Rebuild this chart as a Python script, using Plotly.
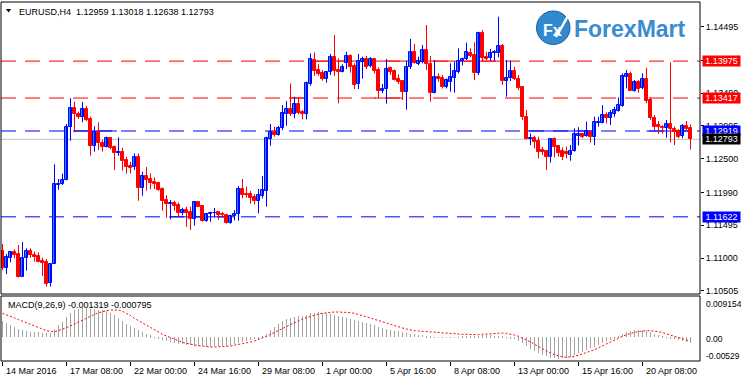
import plotly.graph_objects as go

# ---------------- data ----------------
symbol = "EURUSD,H4"

opens = [
    1.11106, 1.10844, 1.11005, 1.11091, 1.11055, 1.10718, 1.10995, 1.11106, 1.11045, 1.11025,
    1.10955, 1.10944, 1.10627, 1.10914, 1.12103, 1.12113, 1.12173, 1.12974, 1.13262, 1.13176,
    1.13136, 1.13251, 1.13100, 1.12697, 1.12899, 1.12738, 1.12682, 1.12808, 1.12677, 1.12582,
    1.12596, 1.12480, 1.12389, 1.12369, 1.12520, 1.12062, 1.12238, 1.12193, 1.12148, 1.12132,
    1.12042, 1.11875, 1.11815, 1.11830, 1.11800, 1.11684, 1.11724, 1.11694, 1.11583, 1.11840,
    1.11785, 1.11563, 1.11659, 1.11674, 1.11689, 1.11664, 1.11649, 1.11528, 1.11639, 1.11659,
    1.12042, 1.11966, 1.11961, 1.11926, 1.11860, 1.11936, 1.12017, 1.12797, 1.12908, 1.12858,
    1.12958, 1.13175, 1.13246, 1.13175, 1.13321, 1.13205, 1.13175, 1.13628, 1.13991, 1.13840,
    1.13790, 1.13699, 1.13805, 1.14041, 1.13840, 1.13815, 1.13941, 1.14052, 1.13901, 1.13629,
    1.13966, 1.14007, 1.13901, 1.14007, 1.13840, 1.13523, 1.13553, 1.13876, 1.13825, 1.13704,
    1.13674, 1.13513, 1.13881, 1.14112, 1.13931, 1.13966, 1.14143, 1.13936, 1.13498, 1.13740,
    1.13714, 1.13588, 1.13664, 1.13725, 1.13815, 1.13976, 1.14007, 1.14092, 1.14067, 1.13790,
    1.14394, 1.14042, 1.14027, 1.14092, 1.14102, 1.14208, 1.13679, 1.13714, 1.13825, 1.13704,
    1.13583, 1.13125, 1.12798, 1.12818, 1.12767, 1.12631, 1.12616, 1.12531, 1.12798, 1.12692,
    1.12621, 1.12596, 1.12556, 1.12616, 1.12840, 1.12878, 1.12848, 1.12908, 1.12833, 1.13034,
    1.13040, 1.13160, 1.13120, 1.13181, 1.13226, 1.13301, 1.13740, 1.13780, 1.13528, 1.13654,
    1.13563, 1.13699, 1.13387, 1.13120, 1.13009, 1.12984, 1.12959, 1.13019, 1.12949, 1.12913,
    1.12843, 1.12999, 1.12959,
]
highs = [
    1.11211, 1.11060, 1.11096, 1.11131, 1.11196, 1.11242, 1.11146, 1.11146, 1.11096, 1.11086,
    1.11005, 1.10985, 1.10919, 1.12415, 1.12194, 1.12274, 1.13025, 1.13415, 1.13362, 1.13211,
    1.13357, 1.13297, 1.13136, 1.12990, 1.13050, 1.12783, 1.12833, 1.12823, 1.12697, 1.12822,
    1.12666, 1.12530, 1.12455, 1.12581, 1.12581, 1.12304, 1.12374, 1.12278, 1.12218, 1.12153,
    1.12067, 1.11951, 1.11875, 1.11865, 1.11835, 1.11760, 1.11775, 1.11775, 1.11850, 1.11860,
    1.11795, 1.11674, 1.11699, 1.11755, 1.11699, 1.11694, 1.11654, 1.11654, 1.11724, 1.12087,
    1.12193, 1.12077, 1.12011, 1.11966, 1.12042, 1.12238, 1.12832, 1.13024, 1.12984, 1.12994,
    1.13311, 1.13371, 1.13638, 1.13437, 1.13427, 1.13236, 1.13664, 1.14092, 1.14107, 1.13931,
    1.13840, 1.13825, 1.14082, 1.14369, 1.14016, 1.13926, 1.14117, 1.14077, 1.13941, 1.14082,
    1.14042, 1.14052, 1.14037, 1.14017, 1.13881, 1.13629, 1.14007, 1.13891, 1.13850, 1.13775,
    1.13689, 1.13981, 1.14309, 1.14233, 1.14042, 1.14218, 1.14520, 1.14052, 1.13991, 1.13790,
    1.13765, 1.13714, 1.13941, 1.13966, 1.14168, 1.14027, 1.14253, 1.14168, 1.14258, 1.14419,
    1.14445, 1.14117, 1.14158, 1.14142, 1.14646, 1.14233, 1.13991, 1.13981, 1.13891, 1.13765,
    1.13583, 1.13236, 1.12883, 1.12848, 1.12833, 1.12682, 1.12631, 1.12808, 1.12823, 1.12707,
    1.12672, 1.12682, 1.12707, 1.12959, 1.12976, 1.12883, 1.13060, 1.12919, 1.13135, 1.13135,
    1.13311, 1.13200, 1.13236, 1.13286, 1.13427, 1.13790, 1.13840, 1.13815, 1.13689, 1.13689,
    1.13790, 1.13876, 1.13427, 1.13160, 1.13070, 1.13009, 1.13085, 1.13956, 1.12984, 1.12949,
    1.13024, 1.13070, 1.13018,
]
lows = [
    1.10819, 1.10758, 1.10934, 1.10995, 1.10703, 1.10713, 1.10809, 1.11000, 1.10944, 1.10934,
    1.10728, 1.10567, 1.10567, 1.10914, 1.12032, 1.12103, 1.12173, 1.12773, 1.12899, 1.13100,
    1.13050, 1.13070, 1.12546, 1.12607, 1.12632, 1.12607, 1.12672, 1.12642, 1.12330, 1.12545,
    1.12319, 1.12278, 1.12278, 1.12329, 1.11865, 1.11941, 1.12016, 1.12037, 1.12042, 1.12016,
    1.11714, 1.11608, 1.11583, 1.11714, 1.11624, 1.11644, 1.11472, 1.11422, 1.11488, 1.11770,
    1.11548, 1.11548, 1.11548, 1.11613, 1.11578, 1.11613, 1.11518, 1.11518, 1.11568, 1.11563,
    1.11900, 1.11910, 1.11820, 1.11810, 1.11674, 1.11901, 1.11775, 1.12696, 1.12832, 1.12848,
    1.12933, 1.12999, 1.13145, 1.13110, 1.13170, 1.13094, 1.13094, 1.13603, 1.13754, 1.13754,
    1.13679, 1.13649, 1.13765, 1.13749, 1.13336, 1.13805, 1.13855, 1.13800, 1.13553, 1.13553,
    1.13709, 1.13855, 1.13881, 1.13790, 1.13412, 1.13488, 1.13332, 1.13765, 1.13679, 1.13629,
    1.13387, 1.13241, 1.13855, 1.13936, 1.13916, 1.13941, 1.13840, 1.13362, 1.13488, 1.13664,
    1.13563, 1.13563, 1.13513, 1.13498, 1.13790, 1.13911, 1.13991, 1.14032, 1.13689, 1.13765,
    1.13966, 1.13991, 1.13981, 1.13981, 1.14032, 1.13614, 1.13437, 1.13674, 1.13689, 1.13538,
    1.13085, 1.12793, 1.12707, 1.12657, 1.12506, 1.12556, 1.12329, 1.12440, 1.12521, 1.12531,
    1.12480, 1.12506, 1.12470, 1.12606, 1.12700, 1.12808, 1.12833, 1.12747, 1.12707, 1.12984,
    1.13034, 1.13034, 1.13009, 1.13135, 1.13211, 1.13286, 1.13563, 1.13528, 1.13513, 1.13498,
    1.13553, 1.13337, 1.13085, 1.12934, 1.12873, 1.12883, 1.12818, 1.12747, 1.12707, 1.12808,
    1.12808, 1.12934, 1.12638,
]
closes = [
    1.10844, 1.11010, 1.11086, 1.11050, 1.10718, 1.10995, 1.11101, 1.11045, 1.11015, 1.10944,
    1.10929, 1.10612, 1.10904, 1.12113, 1.12123, 1.12173, 1.12979, 1.13262, 1.13171, 1.13136,
    1.13246, 1.13090, 1.12697, 1.12899, 1.12733, 1.12682, 1.12808, 1.12667, 1.12582, 1.12596,
    1.12460, 1.12369, 1.12359, 1.12520, 1.12062, 1.12233, 1.12178, 1.12137, 1.12122, 1.12027,
    1.11865, 1.11815, 1.11835, 1.11790, 1.11684, 1.11724, 1.11684, 1.11583, 1.11840, 1.11775,
    1.11563, 1.11659, 1.11674, 1.11684, 1.11644, 1.11644, 1.11528, 1.11634, 1.11669, 1.12037,
    1.11951, 1.11951, 1.11911, 1.11860, 1.11951, 1.12027, 1.12807, 1.12908, 1.12858, 1.12958,
    1.13185, 1.13246, 1.13175, 1.13321, 1.13195, 1.13175, 1.13638, 1.14006, 1.13830, 1.13780,
    1.13699, 1.13805, 1.14041, 1.13830, 1.13815, 1.13891, 1.14052, 1.13891, 1.13614, 1.13976,
    1.14002, 1.13891, 1.14007, 1.13825, 1.13528, 1.13548, 1.13850, 1.13815, 1.13689, 1.13664,
    1.13513, 1.13881, 1.14112, 1.13951, 1.13981, 1.14143, 1.13926, 1.13498, 1.13730, 1.13704,
    1.13588, 1.13689, 1.13730, 1.13825, 1.13976, 1.14007, 1.14107, 1.14057, 1.13790, 1.14394,
    1.14027, 1.14012, 1.14092, 1.14117, 1.14208, 1.13679, 1.13719, 1.13825, 1.13704, 1.13573,
    1.13125, 1.12798, 1.12818, 1.12747, 1.12606, 1.12596, 1.12531, 1.12798, 1.12682, 1.12591,
    1.12531, 1.12566, 1.12616, 1.12868, 1.12873, 1.12833, 1.12919, 1.12833, 1.13050, 1.13050,
    1.13160, 1.13120, 1.13186, 1.13236, 1.13311, 1.13750, 1.13780, 1.13528, 1.13654, 1.13553,
    1.13699, 1.13377, 1.13110, 1.12984, 1.12984, 1.12969, 1.13019, 1.12944, 1.12898, 1.12833,
    1.12999, 1.12949, 1.12793,
]

macd_main = [
    0.00360, 0.00316, 0.00264, 0.00219, 0.00182, 0.00153, 0.00138, 0.00123, 0.00116, 0.00108,
    0.00093, 0.00086, 0.00101, 0.00190, 0.00264, 0.00345, 0.00456, 0.00545, 0.00604, 0.00627,
    0.00641, 0.00641, 0.00634, 0.00619, 0.00612, 0.00597, 0.00575, 0.00538, 0.00486, 0.00427,
    0.00367, 0.00301, 0.00249, 0.00204, 0.00160, 0.00116, 0.00079, 0.00041, 0.00004, -0.00025,
    -0.00055, -0.00077, -0.00099, -0.00121, -0.00144, -0.00159, -0.00173, -0.00181, -0.00188, -0.00196,
    -0.00203, -0.00210, -0.00210, -0.00203, -0.00196, -0.00196, -0.00188, -0.00173, -0.00159, -0.00136,
    -0.00114, -0.00092, -0.00070, -0.00047, -0.00025, 0.00012, 0.00079, 0.00153, 0.00234, 0.00301,
    0.00353, 0.00397, 0.00427, 0.00449, 0.00464, 0.00478, 0.00501, 0.00530, 0.00545, 0.00553,
    0.00545, 0.00530, 0.00516, 0.00493, 0.00471, 0.00449, 0.00427, 0.00404, 0.00382, 0.00360,
    0.00338, 0.00316, 0.00293, 0.00264, 0.00234, 0.00204, 0.00182, 0.00160, 0.00145, 0.00130,
    0.00108, 0.00093, 0.00079, 0.00071, 0.00056, 0.00049, 0.00034, 0.00019, 0.00004, -0.00003,
    -0.00010, -0.00010, -0.00010, -0.00003, 0.00004, 0.00012, 0.00019, 0.00027, 0.00027, 0.00034,
    0.00041, 0.00041, 0.00041, 0.00034, 0.00027, 0.00012, -0.00003, -0.00025, -0.00047, -0.00077,
    -0.00136, -0.00196, -0.00255, -0.00299, -0.00344, -0.00388, -0.00425, -0.00455, -0.00470, -0.00477,
    -0.00470, -0.00455, -0.00433, -0.00396, -0.00359, -0.00321, -0.00284, -0.00247, -0.00210, -0.00173,
    -0.00129, -0.00084, -0.00055, -0.00025, 0.00012, 0.00064, 0.00108, 0.00138, 0.00153, 0.00160,
    0.00153, 0.00138, 0.00108, 0.00079, 0.00049, 0.00019, -0.00003, -0.00025, -0.00047, -0.00070,
    -0.00092, -0.00114, -0.001319,
]
macd_signal = [
    0.00530, 0.00501, 0.00464, 0.00427, 0.00390, 0.00353, 0.00316, 0.00279, 0.00241, 0.00204,
    0.00175, 0.00145, 0.00130, 0.00123, 0.00145, 0.00175, 0.00204, 0.00249, 0.00293, 0.00338,
    0.00382, 0.00427, 0.00471, 0.00508, 0.00538, 0.00567, 0.00590, 0.00604, 0.00612, 0.00604,
    0.00575, 0.00530, 0.00478, 0.00419, 0.00367, 0.00316, 0.00264, 0.00212, 0.00160, 0.00108,
    0.00064, 0.00027, -0.00010, -0.00047, -0.00084, -0.00114, -0.00136, -0.00159, -0.00173, -0.00188,
    -0.00203, -0.00210, -0.00218, -0.00218, -0.00218, -0.00210, -0.00203, -0.00196, -0.00181, -0.00166,
    -0.00151, -0.00129, -0.00107, -0.00084, -0.00055, -0.00018, 0.00019, 0.00064, 0.00108, 0.00153,
    0.00197, 0.00241, 0.00286, 0.00330, 0.00367, 0.00404, 0.00434, 0.00464, 0.00493, 0.00516,
    0.00530, 0.00545, 0.00553, 0.00560, 0.00560, 0.00560, 0.00553, 0.00545, 0.00530, 0.00508,
    0.00486, 0.00456, 0.00427, 0.00397, 0.00367, 0.00338, 0.00316, 0.00293, 0.00264, 0.00234,
    0.00204, 0.00182, 0.00160, 0.00145, 0.00138, 0.00130, 0.00130, 0.00123, 0.00116, 0.00108,
    0.00101, 0.00093, 0.00086, 0.00079, 0.00071, 0.00064, 0.00064, 0.00056, 0.00056, 0.00056,
    0.00064, 0.00071, 0.00079, 0.00086, 0.00093, 0.00093, 0.00086, 0.00071, 0.00049, 0.00019,
    -0.00018, -0.00062, -0.00107, -0.00159, -0.00210, -0.00262, -0.00307, -0.00351, -0.00388, -0.00418,
    -0.00440, -0.00447, -0.00440, -0.00425, -0.00403, -0.00373, -0.00344, -0.00314, -0.00277, -0.00233,
    -0.00188, -0.00144, -0.00099, -0.00055, -0.00018, 0.00019, 0.00056, 0.00086, 0.00108, 0.00123,
    0.00138, 0.00145, 0.00145, 0.00138, 0.00123, 0.00101, 0.00071, 0.00041, 0.00012, -0.00018,
    -0.00040, -0.00062, -0.000795,
]

tick_bars = [0, 16, 32, 48, 64, 80, 96, 112, 128, 144, 160]
tick_texts = ["14 Mar 2016", "17 Mar 08:00", "22 Mar 00:00", "24 Mar 16:00", "29 Mar 08:00",
              "1 Apr 00:00", "5 Apr 16:00", "8 Apr 08:00", "13 Apr 00:00", "15 Apr 16:00",
              "20 Apr 08:00"]

price_ticks = [1.14495, 1.13990, 1.13490, 1.12995, 1.12500, 1.11990, 1.11495, 1.11000, 1.10505]
macd_labels = ["0.009154", "0.00", "-0.00529"]

# horizontal levels drawn on the chart
level_values = [1.13975, 1.13417, 1.12919, 1.11622]
level_colors = ["#ff0000", "#ff0000", "#0000ff", "#0000ff"]
bid_price = closes[-1]

# solid level segments: value, first bar, last bar
seg_values = [1.12919, 1.11622, 1.13417, 1.13417, 1.13975, 1.12919, 1.12919]
seg_first = [18, 42, 72, 93, 77, 131, 161]
seg_last = [28.6, 58, 76, 100, 125, 148, 172]
seg_colors = ["#0000ff", "#0000ff", "#ff0000", "#ff0000", "#ff0000", "#0000ff", "#0000ff"]

# ---------------- layout helpers ----------------
W, H = 741, 380
ML, MR, MT, MB = 1, 41, 2, 19
PW = W - ML - MR
PH = H - MT - MB


def fx(px):
    return (px - ML) / PW


def fy(py):
    return (H - MB - py) / PH


FONT = "Liberation Sans, Arial, sans-serif"
XR = [-0.375, 174.375]
MAIN_RANGE = [1.10456, 1.14868]
MACD_RANGE = [-0.00529, 0.009154]

n = len(closes)
idx = list(range(n))
bull = [i for i in idx if closes[i] > opens[i]]
bear = [i for i in idx if closes[i] <= opens[i]]

fig = go.Figure()


def wick_xy(sel):
    xs, ys = [], []
    for i in sel:
        xs += [i, i, None]
        ys += [lows[i], highs[i], None]
    return xs, ys


for sel, col in ((bull, "#0000ff"), (bear, "#ff0000")):
    wx, wy = wick_xy(sel)
    fig.add_trace(go.Scatter(x=wx, y=wy, mode="lines", line=dict(color=col, width=1),
                             hoverinfo="skip", xaxis="x", yaxis="y"))

for sel, fill, edge in ((bull, "#1e90ff", "#0000ff"), (bear, "#ff0000", "#ff0000")):
    fig.add_trace(go.Bar(
        x=sel,
        base=[min(opens[i], closes[i]) for i in sel],
        y=[max(abs(closes[i] - opens[i]), 0.00003) for i in sel],
        width=0.6,
        marker=dict(color=fill, line=dict(color=edge, width=1)),
        xaxis="x", yaxis="y", hoverinfo="skip"))

# MACD histogram + signal
fig.add_trace(go.Bar(x=idx, y=macd_main, width=0.25,
                     marker=dict(color="#a4a4a4", line=dict(width=0)),
                     xaxis="x2", yaxis="y2", hoverinfo="skip"))
fig.add_trace(go.Scatter(x=idx, y=macd_signal, mode="lines",
                         line=dict(color="#ff0000", width=1, dash="2px,2px"),
                         xaxis="x2", yaxis="y2", hoverinfo="skip"))

shapes = []
for v, c in zip(level_values, level_colors):
    shapes.append(dict(type="line", xref="paper", x0=0, x1=1, yref="y", y0=v, y1=v,
                       line=dict(color=c, width=1, dash="15px,9px"), layer="below"))
shapes.append(dict(type="line", xref="paper", x0=0, x1=1, yref="y", y0=bid_price, y1=bid_price,
                   line=dict(color="#c0c0c0", width=1), layer="below"))
for v, a, b, c in zip(seg_values, seg_first, seg_last, seg_colors):
    shapes.append(dict(type="line", xref="x", x0=a, x1=b, yref="y", y0=v, y1=v,
                       line=dict(color=c, width=1), layer="below"))
shapes.append(dict(type="rect", xref="paper", yref="paper", x0=0, x1=1, y0=fy(294), y1=1,
                   line=dict(color="black", width=1)))
shapes.append(dict(type="rect", xref="paper", yref="paper", x0=0, x1=1, y0=0, y1=fy(296),
                   line=dict(color="black", width=1)))
shapes.append(dict(type="path", xref="paper", yref="paper",
                   path=f"M {fx(6)},{fy(9)} L {fx(11)},{fy(9)} L {fx(8.5)},{fy(12.5)} Z",
                   fillcolor="black", line=dict(color="black", width=0)))
shapes.append(dict(type="circle", xref="paper", yref="paper",
                   x0=fx(536.5), x1=fx(570), y0=fy(44.5), y1=fy(11),
                   fillcolor="#3189cf", line=dict(color="#1d5e97", width=1)))
shapes.append(dict(type="line", xref="paper", yref="paper",
                   x0=fx(556), y0=fy(37), x1=fx(568), y1=fy(16),
                   line=dict(color="white", width=2.5)))

ann = []
o, h, l, c = opens[-1], highs[-1], lows[-1], closes[-1]
ann.append(dict(xref="paper", yref="paper", x=fx(17), y=fy(11.5), xanchor="left", yanchor="middle",
                text=f"{symbol}\u00a0 {o:.5f} {h:.5f} {l:.5f} {c:.5f}", showarrow=False,
                font=dict(family=FONT, size=9, color="black")))
ann.append(dict(xref="paper", yref="paper", x=fx(6), y=fy(305), xanchor="left", yanchor="middle",
                text=f"MACD(9,26,9) {macd_main[-1]:.6f} {macd_signal[-1]:.6f}", showarrow=False,
                font=dict(family=FONT, size=9, color="black")))
for v, col in list(zip(level_values, level_colors)) + [(bid_price, "#000000")]:
    ann.append(dict(xref="paper", yref="y", x=1, xshift=1.5, y=v, xanchor="left", yanchor="middle",
                    text=f"{v:.5f}", showarrow=False, bgcolor=col, width=37, height=10,
                    borderpad=0, font=dict(family=FONT, size=9, color="white")))
for txt, py in zip(macd_labels, [304.3, 338.7, 356.3]):
    ann.append(dict(xref="paper", yref="paper", x=fx(703.5), y=fy(py), xanchor="left",
                    yanchor="middle", text=txt, showarrow=False,
                    font=dict(family=FONT, size=8.5, color="black")))
for b, txt in zip(tick_bars, tick_texts):
    ann.append(dict(xref="x2", yref="paper", x=b, xshift=1, y=fy(371), xanchor="left",
                    yanchor="middle", text=txt, showarrow=False,
                    font=dict(family=FONT, size=9, color="black")))
ann.append(dict(xref="paper", yref="paper", x=fx(552.5), y=fy(30), xanchor="center",
                yanchor="middle", text="<b>Fx</b>", showarrow=False,
                font=dict(family=FONT, size=16, color="white")))
ann.append(dict(xref="paper", yref="paper", x=fx(572), y=fy(28.5), xanchor="left",
                yanchor="middle", text="<b>ForexMart</b>", showarrow=False,
                font=dict(family=FONT, size=23, color="#3a8cd0")))

fig.update_layout(
    width=W, height=H,
    margin=dict(l=ML, r=MR, t=MT, b=MB, pad=0, autoexpand=False),
    paper_bgcolor="white", plot_bgcolor="white",
    showlegend=False, barmode="overlay", bargap=0,
    font=dict(family=FONT, size=9, color="black"),
    xaxis=dict(domain=[0, 1], range=XR, anchor="y", showticklabels=False, ticks="",
               showgrid=False, zeroline=False, showline=False, fixedrange=True),
    yaxis=dict(domain=[fy(294), 1], range=MAIN_RANGE, side="right", anchor="x",
               tickvals=price_ticks, ticktext=[f"{v:.5f}" for v in price_ticks],
               ticks="outside", ticklen=3, tickcolor="black", tickwidth=1,
               tickfont=dict(family=FONT, size=9, color="black"), automargin=False,
               showgrid=False, zeroline=False, showline=False, fixedrange=True),
    xaxis2=dict(domain=[0, 1], range=XR, anchor="y2", tickvals=tick_bars, ticks="outside",
                ticklen=4, tickcolor="black", tickwidth=1, showticklabels=False,
                showgrid=False, zeroline=False, showline=False, fixedrange=True),
    yaxis2=dict(domain=[0, fy(296)], range=MACD_RANGE, anchor="x2", showticklabels=False,
                ticks="", showgrid=False, zeroline=False, showline=False, fixedrange=True),
    shapes=shapes,
    annotations=ann,
)

fig.write_html("out.html", config={"displayModeBar": False},
               post_script="document.body.style.margin='0';document.body.style.padding='0';"
                           "document.body.style.overflow='hidden';")
